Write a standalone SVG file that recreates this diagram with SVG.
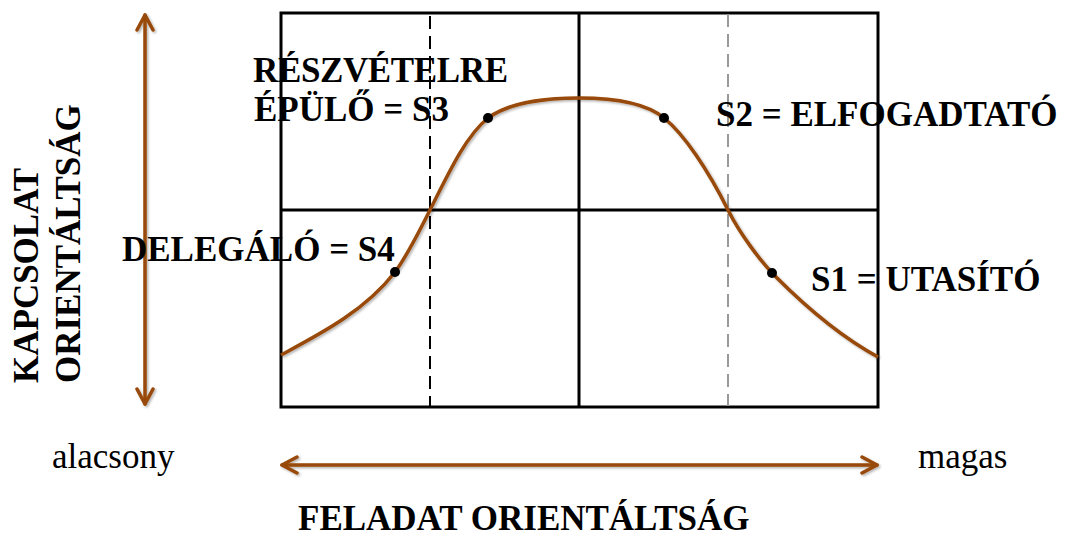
<svg xmlns="http://www.w3.org/2000/svg" width="1066" height="538" viewBox="0 0 1066 538">
<defs>
<style>
.lbl{font-family:"Liberation Serif","Times New Roman",serif;font-weight:bold;font-size:35px;fill:#000}
.reg{font-family:"Liberation Serif","Times New Roman",serif;font-size:35px;fill:#000}
.frame{fill:none;stroke:#000;stroke-width:3}
.mid{stroke:#000;stroke-width:3}
.dash1{stroke:#000;stroke-width:2;stroke-dasharray:13 7}
.dash2{stroke:#999;stroke-width:2;stroke-dasharray:13 7}
.axis{stroke:#984807;stroke-width:3.5;fill:none;stroke-linecap:round}
.curve{stroke:#984807;stroke-width:3.5;fill:none}
.dot{fill:#000}
</style>
<filter id="sh" filterUnits="userSpaceOnUse" x="0" y="0" width="1066" height="538">
<feDropShadow dx="1.5" dy="1.5" stdDeviation="1.2" flood-color="#000" flood-opacity="0.3"/>
</filter>
<marker id="chev" markerUnits="userSpaceOnUse" markerWidth="20" markerHeight="20" viewBox="-17 -10 20 20" refX="0" refY="0" orient="auto-start-reverse">
<path d="M-15,-8 L0,0 L-15,8" fill="none" stroke="#984807" stroke-width="3.5" stroke-linecap="round" stroke-linejoin="round"/>
</marker>
</defs>

<g id="grid">
<rect class="frame" x="281" y="13" width="597" height="394"/>
<line class="mid" x1="579" y1="13" x2="579" y2="407"/>
<line class="mid" x1="281" y1="210" x2="878" y2="210"/>
<line class="dash1" x1="430" y1="16" x2="430" y2="406"/>
<line class="dash2" x1="728" y1="14" x2="728" y2="406"/>
</g>

<g id="connectors" filter="url(#sh)">
<line class="axis" x1="145" y1="404" x2="145" y2="15" marker-end="url(#chev)" marker-start="url(#chev)"/>
<line class="axis" x1="282" y1="465" x2="877" y2="465" marker-end="url(#chev)" marker-start="url(#chev)"/>
<path id="curve" class="curve" d="M281,355 C320,334 365,311 395,272 C407,256 418,234 430,210 C450,170 466,136 488,118 C508,103 545,98 579,98 C614,98 646,103 664,118 C684,134 708,170 728,210 C740,234 761,262 776,277 C806,307 843,338 878,357"/>
</g>

<g id="s3">
<circle class="dot" cx="488" cy="118" r="5"/>
<text class="lbl" x="253" y="82" textLength="255">RÉSZVÉTELRE</text>
<text class="lbl" x="254" y="121">ÉPÜLŐ = S3</text>
</g>
<g id="s2">
<circle class="dot" cx="664" cy="118" r="5"/>
<text class="lbl" x="716" y="126">S2 = ELFOGADTATÓ</text>
</g>
<g id="s4">
<circle class="dot" cx="395" cy="272" r="5"/>
<text class="lbl" x="122" y="261">DELEGÁLÓ = S4</text>
</g>
<g id="s1">
<circle class="dot" cx="772" cy="273" r="5"/>
<text class="lbl" x="811" y="291">S1 = UTASÍTÓ</text>
</g>

<g id="y-axis-label">
<text class="lbl" transform="translate(38,383) rotate(-90)">KAPCSOLAT</text>
<text class="lbl" transform="translate(80,383) rotate(-90)">ORIENTÁLTSÁG</text>
</g>
<g id="x-axis-label">
<text class="lbl" x="298" y="530">FELADAT ORIENTÁLTSÁG</text>
</g>
<g id="scale-labels">
<text class="reg" x="52" y="468">alacsony</text>
<text class="reg" x="918" y="468">magas</text>
</g>
</svg>
